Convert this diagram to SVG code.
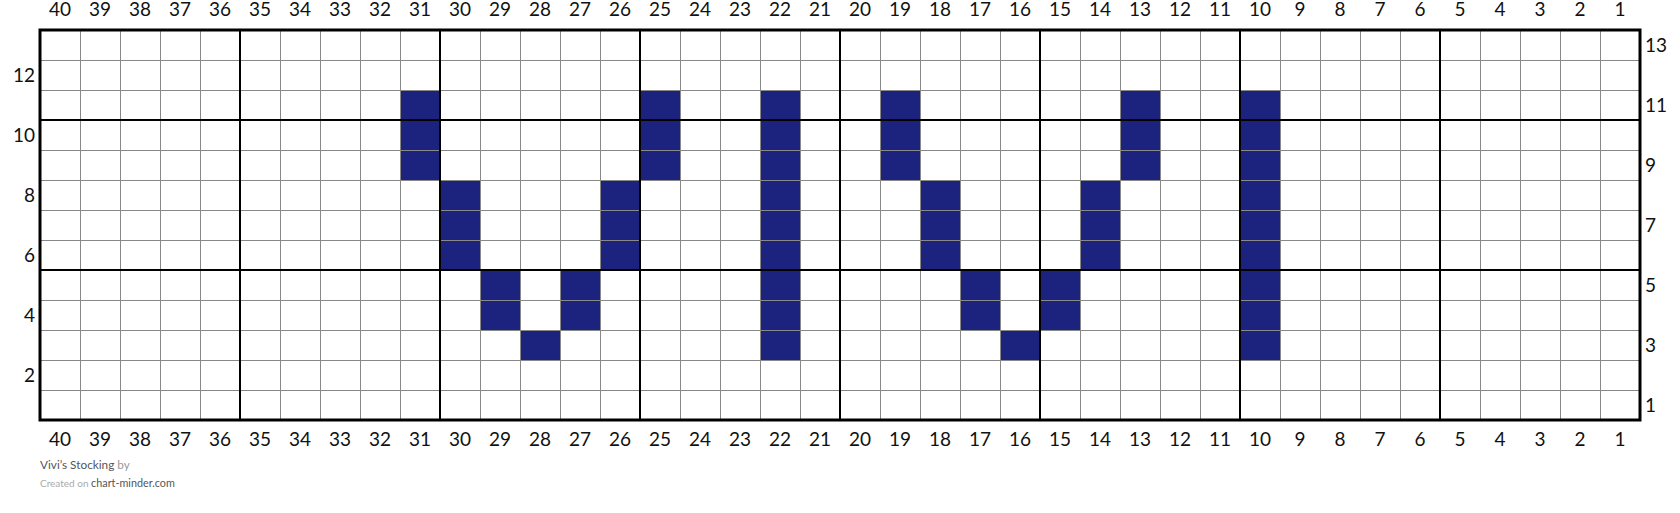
<svg xmlns="http://www.w3.org/2000/svg" width="1680" height="513" viewBox="0 0 1680 513">
<style>
.lbl{font-family:Lato,"Liberation Sans",sans-serif;font-size:19px;fill:#111}
.c{text-anchor:middle}
.r{text-anchor:end}
.fill{fill:#1b237e}
.thin{stroke:#888;stroke-width:1;fill:none}
.thick{stroke:#000;stroke-width:2;fill:none}
.ft{font-family:Lato,"Liberation Sans",sans-serif}
</style>
<rect width="1680" height="513" fill="#fff"/>
<g id="cells">
<rect class="fill" x="400" y="90" width="40" height="90"/>
<rect class="fill" x="440" y="180" width="40" height="90"/>
<rect class="fill" x="480" y="270" width="40" height="60"/>
<rect class="fill" x="520" y="330" width="40" height="30"/>
<rect class="fill" x="560" y="270" width="40" height="60"/>
<rect class="fill" x="600" y="180" width="40" height="90"/>
<rect class="fill" x="640" y="90" width="40" height="90"/>
<rect class="fill" x="760" y="90" width="40" height="270"/>
<rect class="fill" x="880" y="90" width="40" height="90"/>
<rect class="fill" x="920" y="180" width="40" height="90"/>
<rect class="fill" x="960" y="270" width="40" height="60"/>
<rect class="fill" x="1000" y="330" width="40" height="30"/>
<rect class="fill" x="1040" y="270" width="40" height="60"/>
<rect class="fill" x="1080" y="180" width="40" height="90"/>
<rect class="fill" x="1120" y="90" width="40" height="90"/>
<rect class="fill" x="1240" y="90" width="40" height="270"/>
</g>
<g id="grid">
<path class="thin" d="M80.5 30V420M120.5 30V420M160.5 30V420M200.5 30V420M280.5 30V420M320.5 30V420M360.5 30V420M400.5 30V420M480.5 30V420M520.5 30V420M560.5 30V420M600.5 30V420M680.5 30V420M720.5 30V420M760.5 30V420M800.5 30V420M880.5 30V420M920.5 30V420M960.5 30V420M1000.5 30V420M1080.5 30V420M1120.5 30V420M1160.5 30V420M1200.5 30V420M1280.5 30V420M1320.5 30V420M1360.5 30V420M1400.5 30V420M1480.5 30V420M1520.5 30V420M1560.5 30V420M1600.5 30V420M40 60.5H1640M40 90.5H1640M40 150.5H1640M40 180.5H1640M40 210.5H1640M40 240.5H1640M40 300.5H1640M40 330.5H1640M40 360.5H1640M40 390.5H1640"/>
<path class="thick" d="M240 30V420M440 30V420M640 30V420M840 30V420M1040 30V420M1240 30V420M1440 30V420M40 120H1640M40 270H1640"/>
<rect x="40" y="30" width="1600" height="390" fill="none" stroke="#000" stroke-width="3"/>
</g>
<g id="top-labels" class="lbl c">
<text x="60" y="16">40</text><text x="100" y="16">39</text><text x="140" y="16">38</text><text x="180" y="16">37</text><text x="220" y="16">36</text><text x="260" y="16">35</text><text x="300" y="16">34</text><text x="340" y="16">33</text><text x="380" y="16">32</text><text x="420" y="16">31</text><text x="460" y="16">30</text><text x="500" y="16">29</text><text x="540" y="16">28</text><text x="580" y="16">27</text><text x="620" y="16">26</text><text x="660" y="16">25</text><text x="700" y="16">24</text><text x="740" y="16">23</text><text x="780" y="16">22</text><text x="820" y="16">21</text><text x="860" y="16">20</text><text x="900" y="16">19</text><text x="940" y="16">18</text><text x="980" y="16">17</text><text x="1020" y="16">16</text><text x="1060" y="16">15</text><text x="1100" y="16">14</text><text x="1140" y="16">13</text><text x="1180" y="16">12</text><text x="1220" y="16">11</text><text x="1260" y="16">10</text><text x="1300" y="16">9</text><text x="1340" y="16">8</text><text x="1380" y="16">7</text><text x="1420" y="16">6</text><text x="1460" y="16">5</text><text x="1500" y="16">4</text><text x="1540" y="16">3</text><text x="1580" y="16">2</text><text x="1620" y="16">1</text>
</g>
<g id="bottom-labels" class="lbl c">
<text x="60" y="446">40</text><text x="100" y="446">39</text><text x="140" y="446">38</text><text x="180" y="446">37</text><text x="220" y="446">36</text><text x="260" y="446">35</text><text x="300" y="446">34</text><text x="340" y="446">33</text><text x="380" y="446">32</text><text x="420" y="446">31</text><text x="460" y="446">30</text><text x="500" y="446">29</text><text x="540" y="446">28</text><text x="580" y="446">27</text><text x="620" y="446">26</text><text x="660" y="446">25</text><text x="700" y="446">24</text><text x="740" y="446">23</text><text x="780" y="446">22</text><text x="820" y="446">21</text><text x="860" y="446">20</text><text x="900" y="446">19</text><text x="940" y="446">18</text><text x="980" y="446">17</text><text x="1020" y="446">16</text><text x="1060" y="446">15</text><text x="1100" y="446">14</text><text x="1140" y="446">13</text><text x="1180" y="446">12</text><text x="1220" y="446">11</text><text x="1260" y="446">10</text><text x="1300" y="446">9</text><text x="1340" y="446">8</text><text x="1380" y="446">7</text><text x="1420" y="446">6</text><text x="1460" y="446">5</text><text x="1500" y="446">4</text><text x="1540" y="446">3</text><text x="1580" y="446">2</text><text x="1620" y="446">1</text>
</g>
<g id="left-labels" class="lbl r">
<text x="35" y="82">12</text><text x="35" y="142">10</text><text x="35" y="202">8</text><text x="35" y="262">6</text><text x="35" y="322">4</text><text x="35" y="382">2</text>
</g>
<g id="right-labels" class="lbl">
<text x="1645" y="52">13</text><text x="1645" y="112">11</text><text x="1645" y="172">9</text><text x="1645" y="232">7</text><text x="1645" y="292">5</text><text x="1645" y="352">3</text><text x="1645" y="412">1</text>
</g>
<g id="footer" class="ft">
<text x="40" y="469" font-size="11.8" fill="#555">Vivi’s Stocking<tspan fill="#999"> by</tspan></text>
<text x="40" y="487" font-size="10" fill="#aaa">Created on <tspan font-size="10.8" fill="#555">chart-minder.com</tspan></text>
</g>
</svg>
